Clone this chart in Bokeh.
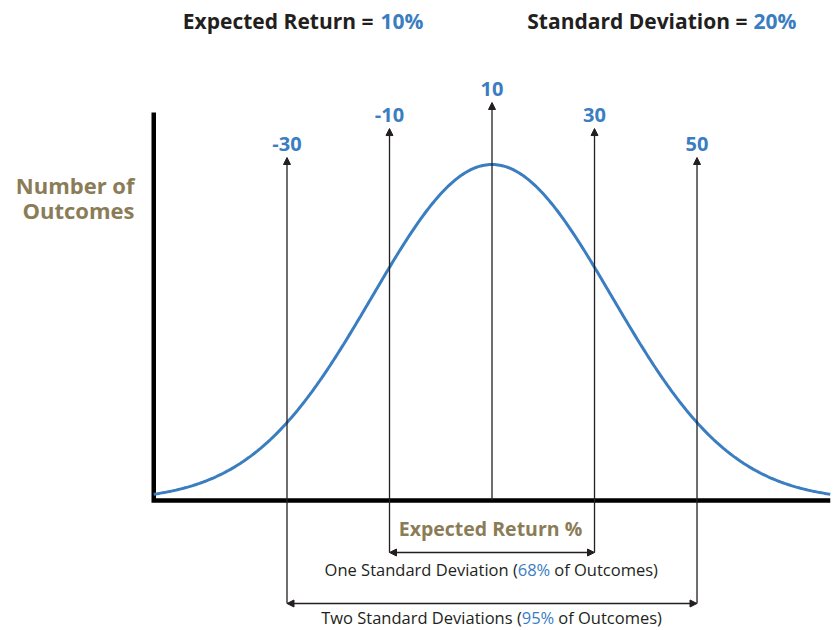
import numpy as np
from bokeh.plotting import figure
from bokeh.models import Arrow, NormalHead, Label, Range1d, ColumnDataSource
from bokeh.embed import file_html
from bokeh.resources import INLINE
from bokeh.core.properties import value

# ---- data ----
expected_return = 10
std_dev = 20
sd_steps = [-2, -1, 0, 1, 2]
marker_values = [-30, -10, 10, 30, 50]
marker_labels = ["-30", "-10", "10", "30", "50"]
curve_spread = 23.4          # visual spread of the drawn bell (data units)
curve_min, curve_max = -56, 76
one_sd_share = "68%"
two_sd_share = "95%"

# ---- styles ----
BLUE = "#3a7dc0"
BROWN = "#8b7c58"
DARK = "#231f20"
FONT = "Open Sans"

W, H = 835, 630
p = figure(width=W, height=H, x_range=Range1d(-85.90, 77.02),
           y_range=Range1d(-0.3869, 1.4881), output_backend="svg",
           toolbar_location=None, min_border=0, x_axis_type=None,
           y_axis_type=None, outline_line_color=None)
p.xgrid.visible = False
p.ygrid.visible = False

# bell curve
xs = np.linspace(curve_min, curve_max, 400)
ys = np.exp(-0.5 * ((xs - expected_return) / curve_spread) ** 2)

# axes (L shape)
axis_top = 1.155
p.line([curve_min, curve_min, curve_max], [axis_top, 0, 0], line_width=4.5,
       line_color="black", line_join="miter")
p.line(xs, ys, line_width=3, line_color=BLUE)

# vertical marker arrows
tops = {0: 1.1845, 1: 1.107, 2: 1.0208}
bottoms = {0: 0.0, 1: -0.1548, 2: -0.3065}
for k, v in zip(sd_steps, marker_values):
    p.add_layout(Arrow(end=NormalHead(size=7, fill_color=DARK, line_color=DARK, line_width=1),
                       x_start=v, y_start=bottoms[abs(k)], x_end=v, y_end=tops[abs(k)],
                       line_width=1.3, line_color=DARK))

src = ColumnDataSource(dict(x=marker_values, y=[tops[abs(k)] for k in sd_steps],
                            t=marker_labels))
p.text(x="x", y="y", text="t", source=src, y_offset=-14, text_align="center",
       text_baseline="middle", text_font=value(FONT), text_font_style="bold",
       text_font_size="20px", text_color=BLUE)

# bracket arrows
for k in (1, 2):
    lo = expected_return - k * std_dev
    hi = expected_return + k * std_dev
    p.add_layout(Arrow(start=NormalHead(size=7, fill_color=DARK, line_color=DARK, line_width=1),
                       end=NormalHead(size=7, fill_color=DARK, line_color=DARK, line_width=1),
                       x_start=lo, y_start=bottoms[k], x_end=hi, y_end=bottoms[k],
                       line_width=1.3, line_color=DARK))


def lab(X, Y, text, color, size, bold=False, align="left"):
    p.add_layout(Label(x=X, y=H - Y, x_units="screen", y_units="screen",
                       text=text, text_color=color, text_font=FONT,
                       text_font_size=size, text_font_style="bold" if bold else "normal",
                       text_align=align, text_baseline="middle"))


# titles
lab(373, 20.5, "Expected Return =", DARK, "21px", True, "right")
lab(380, 20.5, f"{expected_return}%", BLUE, "21px", True, "left")
lab(747, 20.5, "Standard Deviation =", DARK, "21px", True, "right")
lab(753, 20.5, f"{std_dev}%", BLUE, "21px", True, "left")

# y label
lab(134, 184.5, "Number of", BROWN, "22px", True, "right")
lab(134, 209, "Outcomes", BROWN, "22px", True, "right")

# x label
lab(490, 527.5, "Expected Return %", BROWN, "19.5px", True, "center")

# bracket captions
fs = "16.5px"
w = 16.25
lab(533.5 - w, 568.5, "One Standard Deviation (", DARK, fs, False, "right")
lab(533.5, 568.5, one_sd_share, BLUE, fs, False, "center")
lab(533.5 + w + 4, 568.5, "of Outcomes)", DARK, fs, False, "left")

lab(537.5 - w, 617, "Two Standard Deviations (", DARK, fs, False, "right")
lab(537.5, 617, two_sd_share, BLUE, fs, False, "center")
lab(537.5 + w + 4, 617, "of Outcomes)", DARK, fs, False, "left")

open("out.html", "w").write(file_html(p, INLINE))
